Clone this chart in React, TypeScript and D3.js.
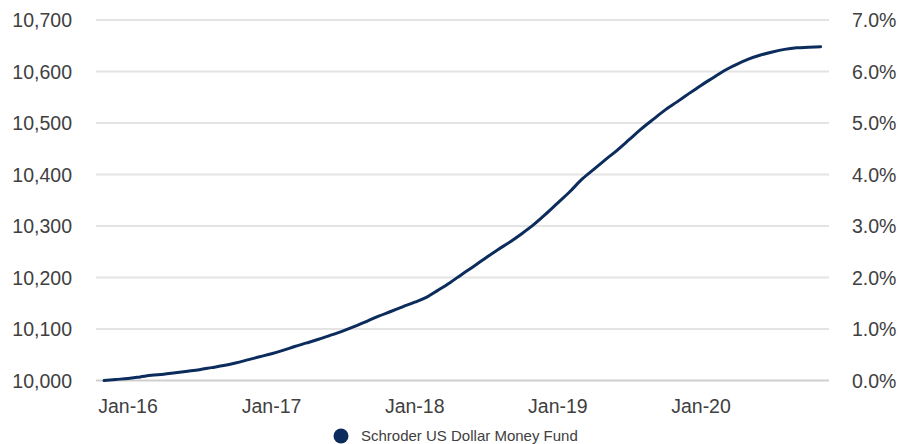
import React from "react";
import * as d3 from "d3";

// Monthly growth of 10,000 (Nov 2015 – Nov 2020)
const startMonth = "2015-11-01";
const fundValues = [
  10000, 10002,
  10004, 10007, 10010, 10012, 10015, 10018, 10021, 10025, 10029, 10034, 10040, 10046,
  10052, 10059, 10066, 10073, 10080, 10088, 10096, 10105, 10115, 10125, 10134, 10143,
  10152, 10162, 10175, 10190, 10206, 10222, 10238, 10254, 10269, 10285, 10303, 10323,
  10345, 10367, 10389, 10409, 10428, 10447, 10467, 10488, 10507, 10525, 10541, 10557,
  10573, 10588, 10602, 10614, 10624, 10632, 10638, 10643, 10646, 10647, 10648,
];
const leftTicks = [10000, 10100, 10200, 10300, 10400, 10500, 10600, 10700];
const rightTicks = [0, 1, 2, 3, 4, 5, 6, 7];
const xTickDates = ["2016-01-01", "2017-01-01", "2018-01-01", "2019-01-01", "2020-01-01"];
const seriesName = "Schroder US Dollar Money Fund";

const W = 900;
const H = 444;
const FONT = "'Liberation Sans', Arial, Helvetica, sans-serif";
const LINE_COLOR = "#0b2c5c";
const TEXT_COLOR = "#404040";

export default function App() {
  const parse = d3.timeParse("%Y-%m-%d");
  const start = parse(startMonth)!;
  const data = fundValues.map((v, i) => ({ date: d3.timeMonth.offset(start, i), value: v }));

  const x = d3
    .scaleTime()
    .domain([parse("2016-01-01")!, parse("2020-01-01")!])
    .range([128, 701]);
  const y = d3.scaleLinear().domain([10000, 10700]).range([380.5, 20]);
  const yr = d3.scaleLinear().domain([0, 7]).range([380.5, 20]);

  const line = d3
    .line<{ date: Date; value: number }>()
    .x((d) => x(d.date))
    .y((d) => y(d.value))
    .curve(d3.curveMonotoneX);

  const fmtLeft = d3.format(",");
  const fmtRight = (v: number) => d3.format(".1f")(v) + "%";
  const fmtX = d3.timeFormat("%b-%y");

  const gridX0 = 96;
  const gridX1 = 829;

  return (
    <svg
      width={W}
      height={H}
      style={{ position: "absolute", left: 0, top: 0, background: "#fff" }}
      fontFamily={FONT}
    >
      {leftTicks.map((t, i) => (
        <line
          key={"g" + t}
          x1={gridX0}
          x2={gridX1}
          y1={y(t)}
          y2={y(t)}
          stroke={i === 0 ? "#cfcfcf" : "#e4e4e4"}
          strokeWidth={2}
        />
      ))}
      {leftTicks.map((t) => (
        <text
          key={"l" + t}
          x={72}
          y={y(t)}
          dy="0.36em"
          textAnchor="end"
          fontSize={19.5}
          fill={TEXT_COLOR}
        >
          {fmtLeft(t)}
        </text>
      ))}
      {rightTicks.map((t) => (
        <text
          key={"r" + t}
          x={852}
          y={yr(t)}
          dy="0.36em"
          textAnchor="start"
          fontSize={19.5}
          fill={TEXT_COLOR}
        >
          {fmtRight(t)}
        </text>
      ))}
      {xTickDates.map((s) => {
        const d = parse(s)!;
        return (
          <text key={s} x={x(d)} y={413} textAnchor="middle" fontSize={19.5} fill={TEXT_COLOR}>
            {fmtX(d)}
          </text>
        );
      })}
      <path
        d={line(data) || ""}
        fill="none"
        stroke={LINE_COLOR}
        strokeWidth={3}
        strokeLinejoin="round"
        strokeLinecap="round"
      />
      <circle cx={341} cy={436} r={7.5} fill={LINE_COLOR} />
      <text x={361} y={441} fontSize={15} fill={TEXT_COLOR}>
        {seriesName}
      </text>
    </svg>
  );
}
